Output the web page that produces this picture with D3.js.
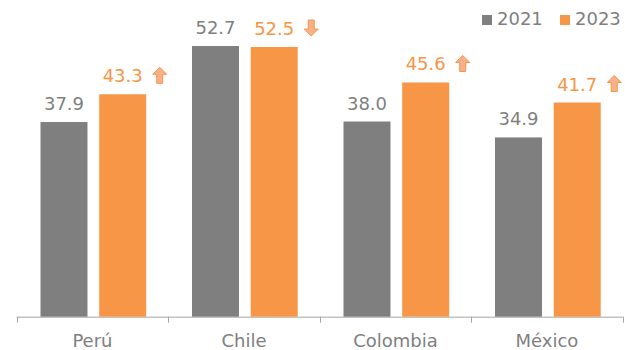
<!DOCTYPE html>
<html>
<head>
<meta charset="utf-8">
<script src="https://cdn.jsdelivr.net/npm/d3@7"></script>
<style>
  body { margin: 0; background: #fff; }
  text { font-family: "DejaVu Sans", Verdana, sans-serif; }
</style>
</head>
<body>
<svg id="chart" width="625" height="350"></svg>
<script>
// data
var categories = ["Perú", "Chile", "Colombia", "México"];
var seriesNames = ["2021", "2023"];
var values2021 = [37.9, 52.7, 38.0, 34.9];
var values2023 = [43.3, 52.5, 45.6, 41.7];
var trend = ["up", "down", "up", "up"];

var colors = { "2021": "#7f7f7f", "2023": "#f79646" };

var svg = d3.select("#chart");

var x0 = d3.scaleBand().domain(categories).range([16.7, 622.7]).padding(0);
var x1 = d3.scaleBand().domain(seriesNames).range([23.8, 129.5]).paddingInner(0.2);
var y = d3.scaleLinear().domain([0, 60]).range([316.7, 8.5]);

var rows = categories.map(function (c, i) {
    return { cat: c, vals: [
        { s: "2021", v: values2021[i] },
        { s: "2023", v: values2023[i] }
    ], trend: trend[i] };
});

// axis
var xAxis = d3.axisBottom(x0).tickSize(6).tickFormat("");
var ax = svg.append("g").attr("transform", "translate(0," + y(0) + ")").call(xAxis);
ax.select(".domain").attr("stroke", "#a6a6a6").attr("d", "M16.7,0.5H622.7");
ax.selectAll(".tick").remove();
// boundary ticks between categories
var edges = categories.map(function (c) { return x0(c); }).concat([x0(categories[3]) + x0.bandwidth()]);
ax.selectAll("line.edge").data(edges).enter().append("line")
    .attr("class", "edge")
    .attr("x1", function (d) { return Math.round(d) + 0.5; })
    .attr("x2", function (d) { return Math.round(d) + 0.5; })
    .attr("y1", 0).attr("y2", 6)
    .attr("stroke", "#a6a6a6");

ax.selectAll("text.cat").data(categories).enter().append("text")
    .attr("class", "cat")
    .attr("x", function (d) { return x0(d) + x0.bandwidth() / 2; })
    .attr("y", 30)
    .attr("text-anchor", "middle")
    .attr("font-size", "18px")
    .attr("fill", "#7f7f7f")
    .text(function (d) { return d; });

// bars
var groups = svg.append("g").selectAll("g").data(rows).enter().append("g")
    .attr("transform", function (d) { return "translate(" + x0(d.cat) + ",0)"; });

groups.selectAll("rect").data(function (d) { return d.vals; }).enter().append("rect")
    .attr("x", function (d) { return x1(d.s); })
    .attr("y", function (d) { return y(d.v); })
    .attr("width", x1.bandwidth())
    .attr("height", function (d) { return y(0) - y(d.v); })
    .attr("fill", function (d) { return colors[d.s]; });

groups.selectAll("text.val").data(function (d) { return d.vals; }).enter().append("text")
    .attr("class", "val")
    .attr("x", function (d) { return x1(d.s) + x1.bandwidth() / 2; })
    .attr("y", function (d) { return y(d.v) - 12; })
    .attr("text-anchor", "middle")
    .attr("font-size", "18px")
    .attr("fill", function (d) { return colors[d.s]; })
    .text(function (d) { return d.v.toFixed(1); });

// trend arrows next to the 2023 label
var arrowUp = "M7,0 L14,7 L10,7 L10,16 L4,16 L4,7 L0,7 Z";
var arrowDown = "M4,0 L10,0 L10,9 L14,9 L7,16 L0,9 L4,9 Z";
groups.append("path")
    .attr("d", function (d) { return d.trend == "up" ? arrowUp : arrowDown; })
    .attr("transform", function (d) {
        var cx = x1("2023") + x1.bandwidth() / 2;
        var ty = y(d.vals[1].v) - 12;
        return "translate(" + (cx + 30) + "," + (ty - 15) + ")";
    })
    .attr("fill", "#f7b08a")
    .attr("stroke", "#f79646")
    .attr("stroke-width", 1);

// legend
var legend = svg.append("g");
var legendX = [482, 560];
seriesNames.forEach(function (s, i) {
    legend.append("rect")
        .attr("x", legendX[i]).attr("y", 15)
        .attr("width", 10).attr("height", 10)
        .attr("fill", colors[s]);
    legend.append("text")
        .attr("x", legendX[i] + 15).attr("y", 25)
        .attr("font-size", "18px")
        .attr("fill", "#7f7f7f")
        .text(s);
});
</script>
</body>
</html>
